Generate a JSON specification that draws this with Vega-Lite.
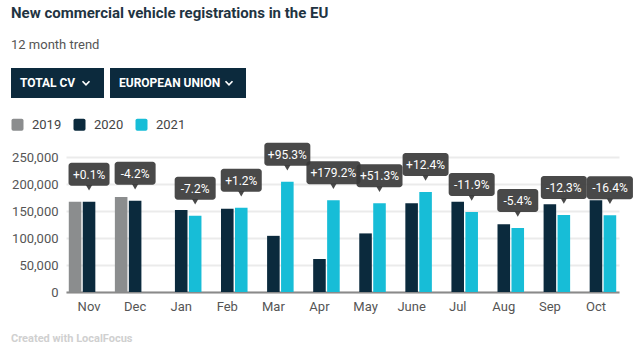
{
  "$schema": "https://vega.github.io/schema/vega-lite/v6.json",
  "background": "white",
  "padding": {"left": 11, "top": 6, "right": 0, "bottom": 0},
  "autosize": {"type": "pad"},
  "config": {
    "view": {"stroke": null},
    "font": "Roboto",
    "concat": {"spacing": 20}
  },
  "resolve": {"scale": {"color": "independent"}, "legend": {"color": "independent"}},
  "title": {
    "text": "New commercial vehicle registrations in the EU",
    "subtitle": "12 month trend",
    "anchor": "start",
    "fontSize": 15,
    "fontWeight": "bold",
    "color": "#1f3442",
    "subtitleFontSize": 13,
    "subtitleColor": "#555555",
    "subtitlePadding": 18,
    "offset": 16
  },
  "vconcat": [
    {
      "width": 241,
      "height": 30,
      "data": {"values": [{"menu": "TOTAL CV"}, {"menu": "EUROPEAN UNION"}]},
      "encoding": {
        "x": {"field": "menu", "type": "nominal", "sort": ["TOTAL CV", "EUROPEAN UNION"], "scale": {"paddingInner": 0, "paddingOuter": 0}, "axis": null}
      },
      "layer": [
        {"transform": [{"filter": "datum.menu == 'TOTAL CV'"}], "mark": {"type": "bar", "width": 93, "xOffset": -68.75, "color": "#0c2a3d"}},
        {"transform": [{"filter": "datum.menu == 'EUROPEAN UNION'"}], "mark": {"type": "bar", "width": 136, "xOffset": -68.75, "color": "#0c2a3d"}},
        {"transform": [{"filter": "datum.menu == 'TOTAL CV'"}], "mark": {"type": "text", "align": "left", "baseline": "middle", "xOffset": -106.25, "fontSize": 12, "fontWeight": "bold", "color": "white"}, "encoding": {"text": {"field": "menu"}}},
        {"transform": [{"filter": "datum.menu == 'EUROPEAN UNION'"}], "mark": {"type": "text", "align": "left", "baseline": "middle", "xOffset": -127.75, "fontSize": 12, "fontWeight": "bold", "color": "white"}, "encoding": {"text": {"field": "menu"}}},
        {"transform": [{"filter": "datum.menu == 'TOTAL CV'"}], "mark": {"type": "point", "shape": "M-1,-0.5L0,0.5L1,-0.5", "size": 49, "filled": false, "stroke": "white", "strokeWidth": 1.7, "opacity": 1, "xOffset": -40.25}},
        {"transform": [{"filter": "datum.menu == 'EUROPEAN UNION'"}], "mark": {"type": "point", "shape": "M-1,-0.5L0,0.5L1,-0.5", "size": 49, "filled": false, "stroke": "white", "strokeWidth": 1.7, "opacity": 1, "xOffset": -17.75}}
      ]
    },
    {
      "width": 553,
      "height": 135,
      "title": {"text": "Created with LocalFocus", "orient": "bottom", "anchor": "start", "frame": "bounds", "fontSize": 11, "fontWeight": "bold", "color": "#d0d0d0", "offset": 20},
      "data": {
        "values": [
          {"month": "Nov", "year": "2019", "value": 167000, "change": null},
          {"month": "Nov", "year": "2020", "value": 167000, "change": "+0.1%"},
          {"month": "Dec", "year": "2019", "value": 176000, "change": null},
          {"month": "Dec", "year": "2020", "value": 169000, "change": "-4.2%"},
          {"month": "Jan", "year": "2020", "value": 152000, "change": null},
          {"month": "Jan", "year": "2021", "value": 141000, "change": "-7.2%"},
          {"month": "Feb", "year": "2020", "value": 154000, "change": null},
          {"month": "Feb", "year": "2021", "value": 156000, "change": "+1.2%"},
          {"month": "Mar", "year": "2020", "value": 104000, "change": null},
          {"month": "Mar", "year": "2021", "value": 204000, "change": "+95.3%"},
          {"month": "Apr", "year": "2020", "value": 61000, "change": null},
          {"month": "Apr", "year": "2021", "value": 170000, "change": "+179.2%"},
          {"month": "May", "year": "2020", "value": 108500, "change": null},
          {"month": "May", "year": "2021", "value": 164500, "change": "+51.3%"},
          {"month": "June", "year": "2020", "value": 164500, "change": null},
          {"month": "June", "year": "2021", "value": 185000, "change": "+12.4%"},
          {"month": "Jul", "year": "2020", "value": 167000, "change": null},
          {"month": "Jul", "year": "2021", "value": 148000, "change": "-11.9%"},
          {"month": "Aug", "year": "2020", "value": 125500, "change": null},
          {"month": "Aug", "year": "2021", "value": 118500, "change": "-5.4%"},
          {"month": "Sep", "year": "2020", "value": 162500, "change": null},
          {"month": "Sep", "year": "2021", "value": 142500, "change": "-12.3%"},
          {"month": "Oct", "year": "2020", "value": 170000, "change": null},
          {"month": "Oct", "year": "2021", "value": 142000, "change": "-16.4%"}
        ]
      },
      "encoding": {
        "x": {
          "field": "month", "type": "nominal",
          "sort": ["Nov", "Dec", "Jan", "Feb", "Mar", "Apr", "May", "June", "Jul", "Aug", "Sep", "Oct"],
          "scale": {"paddingInner": 0, "paddingOuter": 0},
          "title": null,
          "axis": {"labelAngle": 0, "labelFontSize": 13, "labelColor": "#555555", "labelPadding": 8, "ticks": false, "domainColor": "#8a8a8a", "domainWidth": 2, "grid": false}
        },
        "xOffset": {"field": "year", "type": "nominal", "scale": {"domain": ["2019", "2020", "2021"], "paddingInner": 0.1, "paddingOuter": 0.2}},
        "y": {
          "field": "value", "type": "quantitative", "title": null,
          "scale": {"domain": [0, 250000]},
          "axis": {"values": [0, 50000, 100000, 150000, 200000, 250000], "format": ",d", "labelFontSize": 13, "labelColor": "#555555", "labelPadding": 8, "labelOverlap": false, "ticks": false, "domain": false, "gridColor": "#ebebeb", "gridWidth": 2}
        }
      },
      "layer": [
        {
          "mark": {"type": "bar"},
          "encoding": {
            "color": {
              "field": "year", "type": "nominal",
              "scale": {"domain": ["2019", "2020", "2021"], "range": ["#8b8d8e", "#0b2a3d", "#17bdd7"]},
              "legend": {
                "title": null, "orient": "none", "direction": "horizontal", "legendX": -55, "legendY": -39,
                "symbolType": "M-1,-0.7Q-1,-1,-0.7,-1L0.7,-1Q1,-1,1,-0.7L1,0.7Q1,1,0.7,1L-0.7,1Q-1,1,-1,0.7Z",
                "symbolSize": 144, "symbolOpacity": 1, "symbolStrokeWidth": 0,
                "labelFontSize": 13, "labelColor": "#444444", "labelOffset": 8, "columnPadding": 11
              }
            }
          }
        },
        {
          "transform": [{"filter": "datum.change != null && datum.month != 'Oct' && length(datum.change) == 5"}],
          "mark": {"type": "bar", "width": 41, "yOffset": -39, "y2Offset": -16, "cornerRadius": 3, "color": "#3a3a3a", "opacity": 0.92},
          "encoding": {"y2": {"field": "value"}}
        },
        {
          "transform": [{"filter": "datum.change != null && datum.month != 'Oct' && length(datum.change) == 6"}],
          "mark": {"type": "bar", "width": 46, "yOffset": -39, "y2Offset": -16, "cornerRadius": 3, "color": "#3a3a3a", "opacity": 0.92},
          "encoding": {"y2": {"field": "value"}}
        },
        {
          "transform": [{"filter": "datum.change != null && datum.month != 'Oct' && length(datum.change) == 7"}],
          "mark": {"type": "bar", "width": 54, "yOffset": -39, "y2Offset": -16, "cornerRadius": 3, "color": "#3a3a3a", "opacity": 0.92},
          "encoding": {"y2": {"field": "value"}}
        },
        {
          "transform": [{"filter": "datum.change != null && datum.month == 'Oct'"}],
          "mark": {"type": "bar", "width": 46, "xOffset": -13, "yOffset": -39, "y2Offset": -16, "cornerRadius": 3, "color": "#3a3a3a", "opacity": 0.92},
          "encoding": {"y2": {"field": "value"}}
        },
        {
          "transform": [{"filter": "datum.change != null"}],
          "mark": {"type": "point", "shape": "triangle-down", "filled": true, "size": 40, "color": "#3a3a3a", "opacity": 0.92, "yOffset": -14}
        },
        {
          "transform": [{"filter": "datum.change != null && datum.month != 'Oct'"}],
          "mark": {"type": "text", "baseline": "middle", "align": "center", "yOffset": -27, "fontSize": 12, "color": "white"},
          "encoding": {"text": {"field": "change"}}
        },
        {
          "transform": [{"filter": "datum.change != null && datum.month == 'Oct'"}],
          "mark": {"type": "text", "baseline": "middle", "align": "center", "xOffset": -13, "yOffset": -27, "fontSize": 12, "color": "white"},
          "encoding": {"text": {"field": "change"}}
        }
      ]
    }
  ]
}
